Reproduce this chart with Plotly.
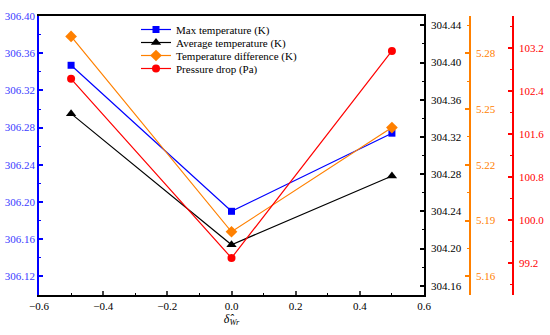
import plotly.graph_objects as go

x_vals = [-0.5, 0.0, 0.5]
max_temp = [306.347, 306.190, 306.274]
avg_temp = [304.345, 304.204, 304.278]
temp_diff = [5.289, 5.184, 5.240]
press_drop = [102.63, 99.29, 103.15]

names = ["Max temperature (K)", "Average temperature (K)",
         "Temperature difference (K)", "Pressure drop (Pa)"]

FONT = "Liberation Serif, Times New Roman, serif"
BLUE = "#0000FF"
BLACK = "#000000"
ORANGE = "#FF8000"
RED = "#FF0000"

fig = go.Figure()
fig.add_trace(go.Scatter(x=x_vals, y=max_temp, name=names[0], mode="lines+markers",
                         line=dict(color=BLUE, width=1.2),
                         marker=dict(symbol="square", size=7, color=BLUE),
                         yaxis="y", legend="legend"))
fig.add_trace(go.Scatter(x=x_vals, y=avg_temp, name=names[1], mode="lines+markers",
                         line=dict(color=BLACK, width=1.2),
                         marker=dict(symbol="triangle-up", size=9, color=BLACK),
                         yaxis="y2", legend="legend2"))
fig.add_trace(go.Scatter(x=x_vals, y=temp_diff, name=names[2], mode="lines+markers",
                         line=dict(color=ORANGE, width=1.2),
                         marker=dict(symbol="diamond", size=9, color=ORANGE),
                         yaxis="y3", legend="legend3"))
fig.add_trace(go.Scatter(x=x_vals, y=press_drop, name=names[3], mode="lines+markers",
                         line=dict(color=RED, width=1.2),
                         marker=dict(symbol="circle", size=8, color=RED),
                         yaxis="y4", legend="legend4"))

W, H = 550, 335
L, R, T, B = 39, 37, 16, 40
pw = W - L - R
x_end = (424 - L) / pw
orange_pos = (470 - L) / pw


def leg(ypix):
    return dict(x=(136 - L) / pw, y=1 - (ypix - T) / (H - T - B),
                xanchor="left", yanchor="middle",
                bgcolor="rgba(0,0,0,0)", borderwidth=0,
                font=dict(family=FONT, size=11, color=BLACK))


common = dict(showgrid=False, zeroline=False, showline=True, linewidth=1.5,
              ticks="inside", ticklen=4, tickwidth=1.5, automargin=False)

fig.update_layout(
    width=W, height=H,
    margin=dict(l=L, r=R, t=T, b=B, autoexpand=False),
    plot_bgcolor="white", paper_bgcolor="white",
    font=dict(family=FONT, size=11, color=BLACK),
    showlegend=True,
    legend=leg(29.5), legend2=leg(42.5), legend3=leg(55.5), legend4=leg(68.5),
    xaxis=dict(domain=[0, x_end], range=[-0.6, 0.6], dtick=0.2, tick0=-0.6,
               tickformat=".1f", linecolor=BLACK, mirror=True,
               tickfont=dict(family=FONT, size=11, color=BLACK),
               minor=dict(dtick=0.1, ticks="inside", ticklen=2.5, tickwidth=1.2, tickcolor=BLACK),
               title=dict(text="<i>δ̂</i><sub><i>Wr</i></sub>", standoff=0,
                          font=dict(family=FONT, size=12, color=BLACK)),
               **common),
    yaxis=dict(range=[306.10, 306.40], dtick=0.04, tick0=306.12, tickformat=".2f",
               linecolor=BLUE, tickcolor=BLUE,
               tickfont=dict(family=FONT, size=11, color="#3B3BFF"),
               minor=dict(dtick=0.02, ticks="inside", ticklen=2.5, tickwidth=1.2, tickcolor=BLUE),
               **common),
    yaxis2=dict(range=[304.15, 304.45], dtick=0.04, tick0=304.16, tickformat=".2f",
                overlaying="y", side="right", anchor="x",
                linecolor=BLACK, tickcolor=BLACK, ticklabelstandoff=3,
                tickfont=dict(family=FONT, size=11, color=BLACK),
                minor=dict(dtick=0.02, ticks="inside", ticklen=2.5, tickwidth=1.2, tickcolor=BLACK),
                **common),
    yaxis3=dict(range=[5.15, 5.30], dtick=0.03, tick0=5.16, tickformat=".2f",
                overlaying="y", side="right", anchor="free", position=orange_pos,
                linecolor=ORANGE, tickcolor=ORANGE, ticklabelstandoff=3,
                tickfont=dict(family=FONT, size=11, color=ORANGE),
                minor=dict(dtick=0.015, ticks="inside", ticklen=2.5, tickwidth=1.2, tickcolor=ORANGE),
                **common),
    yaxis4=dict(range=[98.6, 103.8], dtick=0.8, tick0=99.2, tickformat=".1f",
                overlaying="y", side="right", anchor="free", position=1.0,
                linecolor=RED, tickcolor=RED, ticklabelstandoff=3,
                tickfont=dict(family=FONT, size=11, color=RED),
                minor=dict(dtick=0.4, ticks="inside", ticklen=2.5, tickwidth=1.2, tickcolor=RED),
                **common),
)

fig.write_html("out.html", config={"displayModeBar": False},
               post_script="document.body.style.margin='0';document.body.style.overflow='hidden';")
